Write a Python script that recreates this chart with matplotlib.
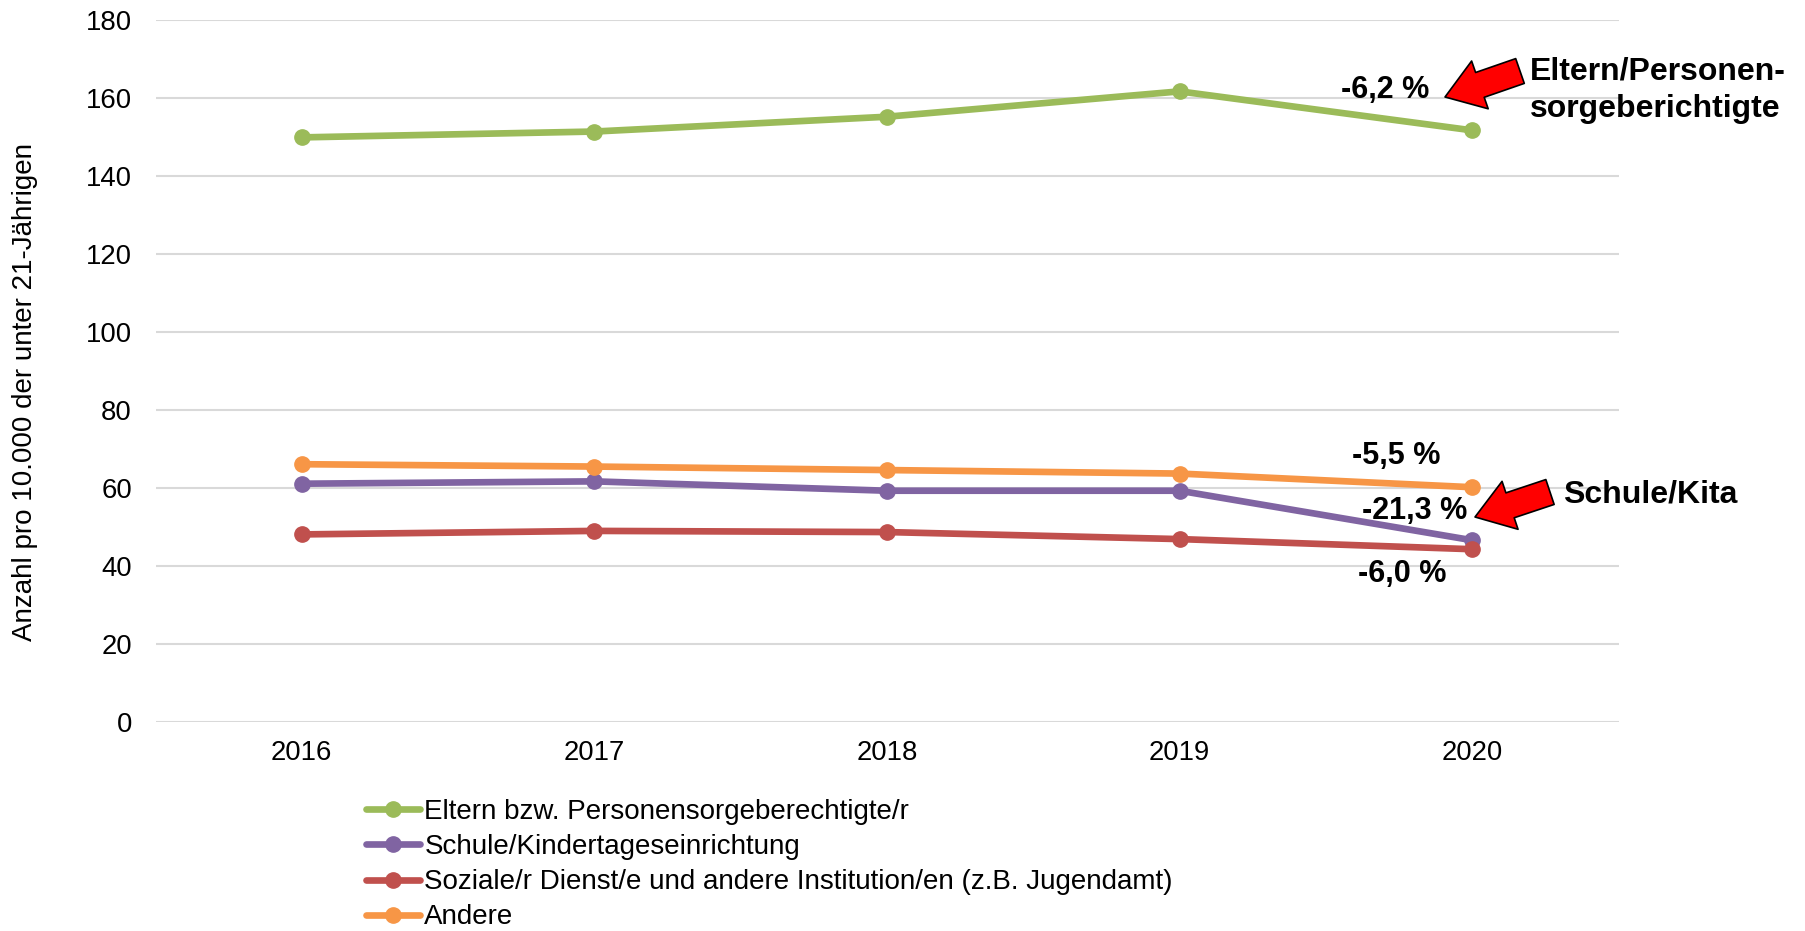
import matplotlib
matplotlib.use("Agg")
import matplotlib.pyplot as plt
from matplotlib.patches import FancyArrowPatch

years = ["2016", "2017", "2018", "2019", "2020"]
eltern = [149.9, 151.4, 155.2, 161.7, 151.7]
schule = [61.1, 61.7, 59.3, 59.3, 46.6]
soziale = [48.1, 49.0, 48.7, 46.9, 44.3]
andere = [66.1, 65.5, 64.6, 63.7, 60.2]
series_labels = ["Eltern bzw. Personensorgeberechtigte/r",
                 "Schule/Kindertageseinrichtung",
                 "Soziale/r Dienst/e und andere Institution/en (z.B. Jugendamt)",
                 "Andere"]
colors = ["#9BBB59", "#8064A2", "#C0504D", "#F79646"]
yticks = [0, 20, 40, 60, 80, 100, 120, 140, 160, 180]
ylabel = "Anzahl pro 10.000 der unter 21-Jährigen"
changes = ["-6,2 %", "-5,5 %", "-21,3 %", "-6,0 %"]

W, H = 1806, 931
fig = plt.figure(figsize=(W / 100, H / 100), dpi=100)
ax = fig.add_axes([155.5 / W, 1 - 722 / H, (1618.6 - 155.5) / W, (722 - 20) / H])

regular = ["Liberation Sans", "DejaVu Sans"]

x = list(range(len(years)))
for vals, lab, c in zip([eltern, schule, soziale, andere], series_labels, colors):
    ax.plot(x, vals, color=c, lw=4.8, marker="o", ms=11, label=lab,
            solid_capstyle="round", zorder=3)

ax.set_xlim(-0.5, len(years) - 0.5)
ax.set_ylim(0, 180)
ax.set_yticks(yticks)
ax.set_xticks(x)
ax.set_xticklabels(years)
ax.grid(axis="y", color="#d9d9d9", lw=1.5)
ax.set_axisbelow(True)
for s in ax.spines.values():
    s.set_visible(False)
ax.tick_params(axis="both", length=0, labelsize=19.8)
ax.tick_params(axis="y", pad=17)
ax.tick_params(axis="x", pad=13)
for t in ax.get_xticklabels() + ax.get_yticklabels():
    t.set_family(regular)

fig.text(25 / W, 1 - 392 / H, ylabel, rotation=90, ha="center", va="center",
         fontsize=20, family=regular)

leg = fig.legend(loc="upper left", bbox_to_anchor=(366 / W, 1 - 799 / H),
                 frameon=False, handlelength=1.95, handletextpad=0.15,
                 labelspacing=0.33, borderpad=0, borderaxespad=0,
                 prop={"family": regular, "size": 20})


def ftxt(px, py, s, size=22, **kw):
    fig.text(px / W, 1 - py / H, s, fontsize=size, fontweight="bold", family=regular, **kw)


ftxt(1385, 90, changes[0], ha="center", va="center")
ftxt(1396, 456, changes[1], ha="center", va="center")
ftxt(1415, 511, changes[2], ha="center", va="center")
ftxt(1402, 574, changes[3], ha="center", va="center")
ftxt(1530, 71, "Eltern/Personen-", size=23, ha="left", va="center")
ftxt(1530, 109, "sorgeberichtigte", size=23, ha="left", va="center")
ftxt(1563, 494, "Schule/Kita", size=23, ha="left", va="center")


def arrow(tail, tip):
    p = FancyArrowPatch((tail[0] / W, 1 - tail[1] / H), (tip[0] / W, 1 - tip[1] / H),
                        transform=fig.transFigure,
                        arrowstyle="simple,head_length=1.9,head_width=2.6,tail_width=1.35",
                        mutation_scale=14, facecolor="#FF0000", edgecolor="black",
                        lw=1.2, shrinkA=0, shrinkB=0)
    fig.add_artist(p)


arrow((1520, 71), (1445, 97))
arrow((1550, 492), (1475, 517))

fig.savefig("out.png", dpi=100)
